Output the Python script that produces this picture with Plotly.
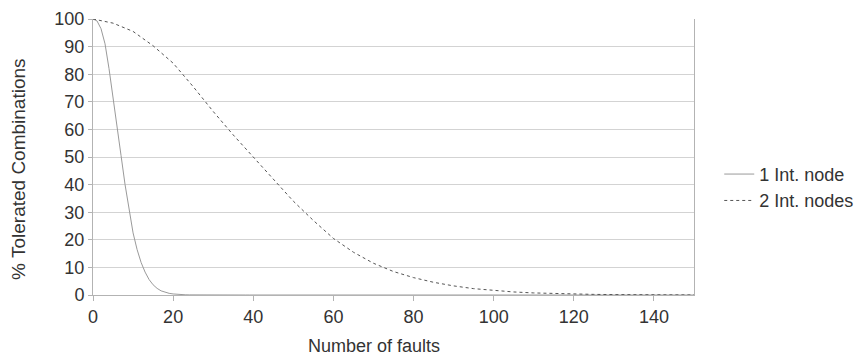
import plotly.graph_objects as go

x1 = list(range(0, 151))
y1_head = [100, 99.3, 96.5, 91, 82, 72, 62, 50.5, 40, 30.5, 22.5, 16.5, 11.8, 8.3, 5.6, 3.7,
           2.4, 1.5, 0.95, 0.6, 0.38, 0.23, 0.14, 0.08, 0.05, 0.03]
y1 = y1_head + [0.0] * (len(x1) - len(y1_head))

x2 = list(range(0, 151, 5))
y2 = [100, 98.5, 95.5, 90.3, 84, 75.5, 66.5, 58, 50, 42, 34, 27, 20.5, 15.5, 11.5, 8.5,
      6.3, 4.6, 3.3, 2.3, 1.6, 1.1, 0.75, 0.5, 0.35, 0.22, 0.15, 0.1, 0.06, 0.04, 0.02]

names = ["1 Int. node", "2 Int. nodes"]
x_title = "Number of faults"
y_title = "% Tolerated Combinations"

fig = go.Figure()
fig.add_trace(go.Scatter(x=x1, y=y1, mode="lines", name=names[0],
                         line=dict(color="#9a9a9a", width=1)))
fig.add_trace(go.Scatter(x=x2, y=y2, mode="lines", name=names[1],
                         line=dict(color="#555555", width=1, dash="3px,3px")))

font_family = "Liberation Sans, Arial, sans-serif"
fig.update_layout(
    width=867, height=358,
    margin=dict(l=93, r=173, t=19, b=63, autoexpand=False),
    paper_bgcolor="white", plot_bgcolor="white",
    font=dict(family=font_family, size=18, color="#333333"),
    showlegend=True,
    legend=dict(x=1.042, y=0.39, xanchor="left", yanchor="middle",
                font=dict(size=18, color="#333333"), tracegroupgap=0,
                bgcolor="rgba(0,0,0,0)"),
    xaxis=dict(range=[0, 150], dtick=20, tick0=0, showgrid=False,
               showline=True, linecolor="#b3b3b3", linewidth=1,
               ticks="outside", ticklen=5, tickcolor="#b3b3b3",
               zeroline=False, tickfont=dict(size=18, color="#333333"),
               automargin=False),
    yaxis=dict(range=[0, 100], dtick=10, tick0=0, showgrid=True,
               gridcolor="#d3d3d3", gridwidth=1,
               showline=True, linecolor="#b3b3b3", linewidth=1, mirror=True,
               ticks="outside", ticklen=4, tickcolor="#b3b3b3",
               zeroline=False, tickfont=dict(size=18, color="#333333"),
               automargin=False),
    annotations=[
        dict(text=x_title, xref="paper", yref="paper", x=0.468, y=-0.185,
             xanchor="center", yanchor="middle", showarrow=False,
             font=dict(size=18, color="#333333")),
        dict(text=y_title, xref="paper", yref="paper", x=-0.125, y=0.4565,
             xanchor="center", yanchor="middle", showarrow=False, textangle=-90,
             font=dict(size=19, color="#333333")),
    ],
)

fig.write_html("out.html")
